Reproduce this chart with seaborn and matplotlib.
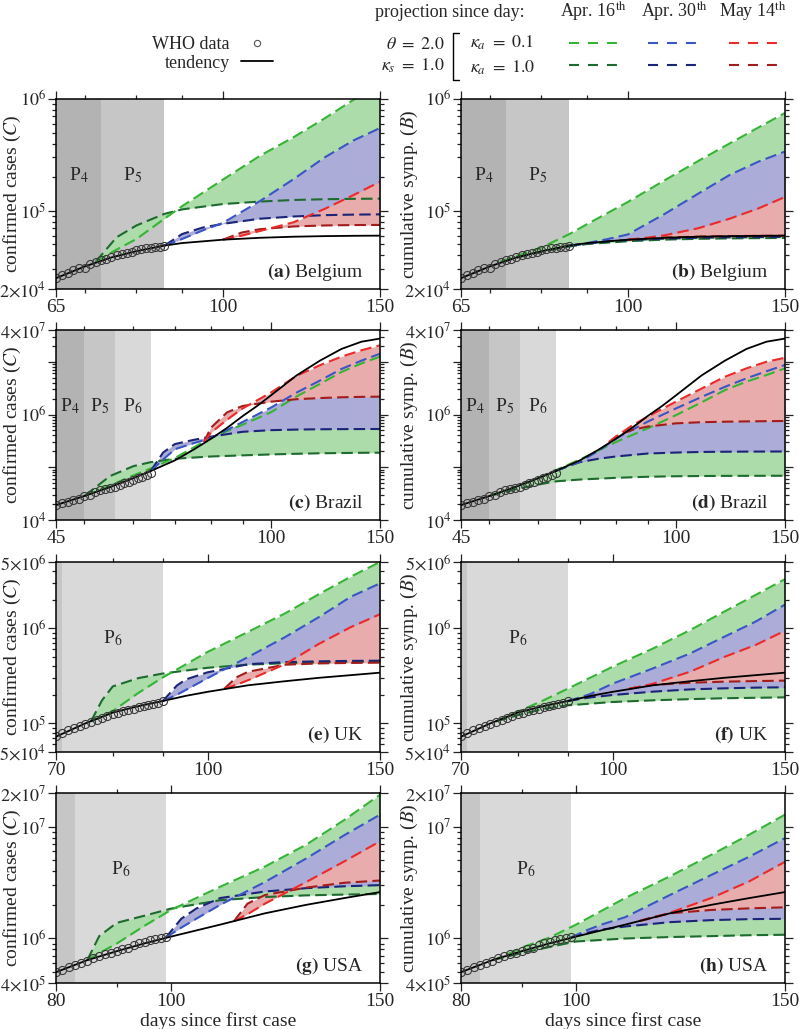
import numpy as np
import pandas as pd
import seaborn as sns
import matplotlib.pyplot as plt
import matplotlib.transforms as mtransforms
from matplotlib.lines import Line2D
from matplotlib.ticker import FixedLocator, FixedFormatter, LogLocator, NullFormatter

sns.set_theme(style='ticks')
plt.rcParams['font.family'] = ['Liberation Serif', 'DejaVu Serif']
plt.rcParams['mathtext.fontset'] = 'stix'
plt.rcParams['axes.linewidth'] = 1.1
plt.rcParams['axes.edgecolor'] = 'black'

# colours
GREEN_LIGHT, GREEN_DARK, GREEN_FILL = '#35b435', '#1d6b2e', '#acdcaa'
BLUE_LIGHT, BLUE_DARK, BLUE_FILL = '#3a55c4', '#1b2577', '#acacd8'
RED_LIGHT, RED_DARK, RED_FILL = '#ec2a2a', '#a21c1c', '#e8acac'
PHASE_COLORS = {'P4': '#b3b3b3', 'P5': '#c6c6c6', 'P6': '#d9d9d9'}

# ---------------- Belgium ----------------
BEL_DAYS = list(range(65, 87))
BEL_WHO = [24983, 26667, 28018, 29647, 30589, 31119, 33573, 34809, 36138, 37183, 38496,
           39983, 40956, 41889, 42797, 44293, 45325, 46134, 46687, 47334, 47859, 48519]
BEL_TEND_X = [65, 70, 75, 80, 86, 90, 100, 110, 120, 130, 140, 150]
BEL_TEND_Y = [25000, 31800, 38300, 43600, 48900, 51500, 55200, 57400, 58700, 59400, 59800, 60000]
BEL_X_APR16 = [72, 76, 80, 86, 90, 100, 110, 120, 130, 140, 150]
BEL_X_APR30 = [86, 90, 95, 100, 110, 120, 130, 140, 150]
BEL_X_MAY14 = [100, 105, 110, 120, 130, 140, 150]
BEL_C_APR16_K01 = [35000, 45000, 56000, 85000, 110000, 190000, 310000, 455000, 670000, 980000, 1400000]
BEL_C_APR16_K10 = [35000, 58000, 74000, 94000, 103000, 115000, 121000, 125000, 127000, 128000, 128500]
BEL_C_APR30_K01 = [48900, 56000, 67000, 78000, 122000, 192000, 300000, 425000, 550000]
BEL_C_APR30_K10 = [48900, 62000, 71000, 76500, 85000, 89000, 91500, 92500, 93000]
BEL_C_MAY14_K01 = [55200, 60000, 66000, 79000, 104000, 138000, 182000]
BEL_C_MAY14_K10 = [55200, 64000, 68500, 72500, 74000, 74600, 74800]
BEL_B_APR16_K01 = [35000, 41000, 47000, 62000, 76000, 120000, 188000, 280000, 400000, 555000, 750000]
BEL_B_APR16_K10 = [35000, 39000, 43000, 48000, 50500, 53500, 55300, 56200, 56700, 57000, 57200]
BEL_B_APR30_K01 = [48900, 51500, 56000, 61500, 94000, 143000, 209000, 275000, 339000]
BEL_B_APR30_K10 = [48900, 51000, 53500, 54800, 56500, 57500, 58000, 58300, 58500]
BEL_B_MAY14_K01 = [55200, 57500, 60500, 70000, 85000, 105000, 133000]
BEL_B_MAY14_K10 = [55200, 56800, 57800, 58800, 59400, 59700, 59900]
BEL_PHASE_EDGES = [65, 73, 86]
BEL_PHASE_KEYS = ['P4', 'P5']
BEL_PHASE_LABELS = ['P$_4$', 'P$_5$']

# ---------------- Brazil ----------------
BRA_DAYS = list(range(45, 65))
BRA_WHO = [19638, 20727, 22169, 23430, 25262, 28320, 30425, 33682, 36599, 38654,
           40581, 43079, 45757, 49492, 52995, 58509, 61888, 66501, 71886, 78162]
BRA_TEND_X = [45, 50, 55, 60, 64, 70, 75, 80, 85, 90, 95, 100, 110, 120, 130, 140, 150]
BRA_TEND_Y = [19200, 28500, 42000, 62000, 85000, 135000, 215000, 345000, 560000, 930000,
              1450000, 2300000, 5500000, 10500000, 17500000, 24000000, 27500000]
BRA_X_APR16 = [50, 55, 60, 64, 70, 80, 90, 100, 110, 120, 130, 140, 150]
BRA_X_APR30 = [64, 67, 70, 75, 80, 90, 100, 110, 120, 130, 140, 150]
BRA_X_MAY14 = [78, 80, 85, 90, 100, 110, 120, 130, 140, 150]
BRA_C_APR16_K01 = [28500, 45000, 70000, 95000, 150000, 360000, 640000, 1100000, 2200000,
                   3800000, 6400000, 9300000, 12500000]
BRA_C_APR16_K10 = [28500, 68000, 105000, 125000, 145000, 160000, 168000, 175000, 180000,
                   184000, 186000, 188000, 189000]
BRA_C_APR30_K01 = [85000, 140000, 220000, 285000, 355000, 720000, 1350000, 2600000, 4400000,
                   7300000, 10500000, 14200000]
BRA_C_APR30_K10 = [85000, 190000, 275000, 330000, 380000, 470000, 505000, 518000, 525000,
                   528000, 530000, 531000]
BRA_C_MAY14_K01 = [300000, 450000, 800000, 1300000, 2600000, 5400000, 8600000, 12500000,
                   16500000, 20500000]
BRA_C_MAY14_K10 = [300000, 560000, 1100000, 1450000, 1750000, 1950000, 2050000, 2120000,
                   2160000, 2180000]
BRA_B_APR16_K01 = [28500, 42000, 62000, 88000, 140000, 300000, 545000, 970000, 1700000,
                   2900000, 4200000, 5600000, 7500000]
BRA_B_APR16_K10 = [28500, 38000, 47000, 54000, 58500, 63000, 66000, 67500, 68200, 68600,
                   68800, 68900, 69000]
BRA_B_APR30_K01 = [85000, 105000, 127000, 205000, 350000, 730000, 1300000, 2150000, 3350000,
                   4850000, 6600000, 8700000]
BRA_B_APR30_K10 = [85000, 105000, 125000, 145000, 160000, 182000, 190000, 195000, 197000,
                   198000, 198500, 199000]
BRA_B_MAY14_K01 = [300000, 380000, 620000, 910000, 1750000, 3100000, 5200000, 7500000,
                   10000000, 11900000]
BRA_B_MAY14_K10 = [300000, 380000, 510000, 590000, 680000, 715000, 730000, 740000, 748000, 753000]
BRA_PHASE_EDGES = [45, 50, 56, 64]
BRA_PHASE_KEYS = ['P4', 'P5', 'P6']
BRA_PHASE_LABELS = ['P$_4$', 'P$_5$', 'P$_6$']

# ---------------- UK ----------------
UK_DAYS = list(range(70, 91))
UK_WHO = [73758, 78991, 84279, 88621, 93873, 98476, 103093, 108692, 114217, 120067, 124743,
          129044, 133495, 138078, 143464, 148377, 152840, 157149, 161145, 165221, 171253]
UK_TEND_X = [70, 75, 80, 85, 90, 95, 100, 110, 120, 130, 140, 150]
UK_TEND_Y = [72500, 100000, 130000, 152000, 172000, 195000, 215000, 252000, 278000, 302000,
             322000, 342000]
UK_X_APR16 = [76, 78, 80, 85, 90, 100, 110, 120, 130, 140, 150]
UK_X_APR30 = [90, 93, 95, 100, 110, 120, 130, 140, 150]
UK_X_MAY14 = [104, 107, 110, 120, 130, 140, 150]
UK_C_APR16_K01 = [105000, 118000, 135000, 210000, 305000, 565000, 920000, 1440000, 2300000,
                  3500000, 5000000]
UK_C_APR16_K10 = [105000, 175000, 245000, 300000, 335000, 385000, 415000, 430000, 440000,
                  445000, 448000]
UK_C_APR30_K01 = [172000, 200000, 225000, 300000, 500000, 810000, 1320000, 2150000, 2980000]
UK_C_APR30_K10 = [172000, 250000, 290000, 345000, 420000, 442000, 450000, 455000, 457000]
UK_C_MAY14_K01 = [232000, 255000, 285000, 420000, 690000, 1030000, 1410000]
UK_C_MAY14_K10 = [232000, 305000, 350000, 415000, 428000, 433000, 436000]
UK_B_APR16_K01 = [105000, 118000, 133000, 175000, 232000, 395000, 615000, 960000, 1500000,
                  2250000, 3300000]
UK_B_APR16_K10 = [105000, 113000, 122000, 142000, 155000, 168000, 175000, 180000, 184000,
                  186000, 188000]
UK_B_APR30_K01 = [172000, 190000, 205000, 262000, 380000, 545000, 815000, 1180000, 1780000]
UK_B_APR30_K10 = [172000, 182000, 188000, 199000, 216000, 228000, 234000, 238000, 240000]
UK_B_MAY14_K01 = [232000, 245000, 262000, 350000, 500000, 670000, 945000]
UK_B_MAY14_K10 = [232000, 245000, 254000, 268000, 275000, 279000, 282000]
UK_PHASE_EDGES = [70, 71, 90]
UK_PHASE_KEYS = ['P5', 'P6']
UK_PHASE_LABELS = ['', 'P$_6$']

# ---------------- USA ----------------
USA_DAYS = list(range(80, 100))
USA_WHO = [500000, 525000, 555000, 579000, 605000, 633000, 668000, 700000, 721000, 744000,
           777000, 801000, 830000, 868000, 905000, 938000, 966000, 988000, 1012000, 1035000]
USA_TEND_X = [80, 85, 90, 95, 100, 110, 120, 130, 140, 150]
USA_TEND_Y = [500000, 640000, 770000, 905000, 1040000, 1330000, 1680000, 2000000, 2300000, 2600000]
USA_X_APR16 = [85, 87, 90, 95, 100, 110, 120, 130, 140, 150]
USA_X_APR30 = [99, 102, 105, 110, 120, 130, 140, 150]
USA_X_MAY14 = [113, 116, 120, 130, 140, 150]
USA_C_APR16_K01 = [640000, 740000, 900000, 1300000, 1800000, 2900000, 4400000, 6900000,
                   11500000, 19300000]
USA_C_APR16_K10 = [640000, 1050000, 1380000, 1600000, 1850000, 2200000, 2350000, 2430000,
                   2470000, 2500000]
USA_C_APR30_K01 = [1020000, 1250000, 1500000, 2000000, 3200000, 5200000, 8400000, 12800000]
USA_C_APR30_K10 = [1020000, 1500000, 1850000, 2300000, 2630000, 2820000, 2930000, 3000000]
USA_C_MAY14_K01 = [1430000, 1650000, 2050000, 3200000, 4900000, 7400000]
USA_C_MAY14_K10 = [1430000, 2050000, 2450000, 2850000, 3150000, 3300000]
USA_B_APR16_K01 = [640000, 700000, 830000, 1020000, 1330000, 2300000, 3600000, 5600000,
                   8500000, 12800000]
USA_B_APR16_K10 = [640000, 680000, 740000, 840000, 940000, 1000000, 1030000, 1050000,
                   1070000, 1080000]
USA_B_APR30_K01 = [1020000, 1180000, 1330000, 1550000, 2450000, 3700000, 5400000, 7900000]
USA_B_APR30_K10 = [1020000, 1120000, 1200000, 1280000, 1400000, 1460000, 1490000, 1500000]
USA_B_MAY14_K01 = [1430000, 1520000, 1700000, 2300000, 3250000, 4850000]
USA_B_MAY14_K10 = [1430000, 1550000, 1680000, 1800000, 1860000, 1900000]
USA_PHASE_EDGES = [80, 83, 99]
USA_PHASE_KEYS = ['P5', 'P6']
USA_PHASE_LABELS = ['', 'P$_6$']

# axis settings
BEL_XLIM, BEL_XTICKS = (65, 150), [65, 100, 150]
BRA_XLIM, BRA_XTICKS = (45, 150), [45, 100, 150]
UK_XLIM, UK_XTICKS = (70, 150), [70, 100, 150]
USA_XLIM, USA_XTICKS = (80, 150), [80, 100, 150]
BEL_YLIM, BEL_YTICKS = (2e4, 1e6), [2e4, 1e5, 1e6]
BEL_YLABELS = [r'$2{\times}10^{4}$', r'$10^{5}$', r'$10^{6}$']
BRA_YLIM, BRA_YTICKS = (1e4, 4e7), [1e4, 1e5, 1e6, 1e7, 4e7]
BRA_YLABELS = [r'$10^{4}$', '', r'$10^{6}$', '', r'$4{\times}10^{7}$']
UK_YLIM, UK_YTICKS = (5e4, 5e6), [5e4, 1e5, 1e6, 5e6]
UK_YLABELS = [r'$5{\times}10^{4}$', r'$10^{5}$', r'$10^{6}$', r'$5{\times}10^{6}$']
USA_YLIM, USA_YTICKS = (4e5, 2e7), [4e5, 1e6, 1e7, 2e7]
USA_YLABELS = [r'$4{\times}10^{5}$', r'$10^{6}$', r'$10^{7}$', r'$2{\times}10^{7}$']

DASH = (5.5, 2.5)


def projections(x16, x30, x14, a, b, c, d, e, f):
    return [(x16, a, b, GREEN_FILL, GREEN_LIGHT, GREEN_DARK),
            (x30, c, d, BLUE_FILL, BLUE_LIGHT, BLUE_DARK),
            (x14, e, f, RED_FILL, RED_LIGHT, RED_DARK)]


def draw_panel(ax, days, who, tx, ty, projs, edges, keys, labels):
    blend = mtransforms.blended_transform_factory(ax.transData, ax.transAxes)
    for lo, hi, key, lab in zip(edges[:-1], edges[1:], keys, labels):
        ax.axvspan(lo, hi, color=PHASE_COLORS[key], lw=0, zorder=0)
        if lab:
            ax.text(np.sqrt(lo * hi), 0.6, lab, transform=blend, ha='center',
                    va='center', fontsize=14, zorder=6)
    for x, y01, y10, fill, c01, c10 in projs:
        ax.fill_between(x, y01, y10, color=fill, lw=0, zorder=1)
    for x, y01, y10, fill, c01, c10 in projs:
        sns.lineplot(x=x, y=y10, ax=ax, color=c10, lw=1.5, ls=(0, DASH),
                     estimator=None, sort=False, zorder=3)
        sns.lineplot(x=x, y=y01, ax=ax, color=c01, lw=1.5, ls=(0, DASH),
                     estimator=None, sort=False, zorder=3)
    sns.lineplot(x=tx, y=ty, ax=ax, color='black', lw=1.3, estimator=None,
                 sort=False, zorder=4)
    sns.lineplot(x=days, y=who, ax=ax, color='#3a3a3a', ls='', marker='o', ms=5.8,
                 markerfacecolor='none', markeredgecolor='#3a3a3a', markeredgewidth=0.8,
                 estimator=None, sort=False, zorder=5)


def style_axes(ax, xlim, xticks, ylim, yticks, ylabels):
    ax.set_xscale('log')
    ax.set_yscale('log')
    ax.set_xlim(*xlim)
    ax.set_ylim(*ylim)
    ax.xaxis.set_major_locator(FixedLocator(xticks))
    ax.xaxis.set_major_formatter(FixedFormatter([str(t) for t in xticks]))
    ax.xaxis.set_minor_locator(LogLocator(base=10, subs=np.arange(2, 10), numticks=50))
    ax.xaxis.set_minor_formatter(NullFormatter())
    ax.yaxis.set_major_locator(FixedLocator(yticks))
    ax.yaxis.set_major_formatter(FixedFormatter(ylabels))
    ax.yaxis.set_minor_locator(LogLocator(base=10, subs=np.arange(2, 10), numticks=50))
    ax.yaxis.set_minor_formatter(NullFormatter())
    ax.tick_params(which='both', direction='out', top=True, right=True, width=0.9,
                   color='#222222')
    ax.tick_params(which='major', length=5.5, pad=2)
    ax.tick_params(axis='x', which='major', labelsize=14)
    ax.tick_params(axis='y', which='major', labelsize=13, pad=1.5)
    ax.tick_params(which='minor', length=3)
    for s in ax.spines.values():
        s.set_linewidth(1.1)
        s.set_zorder(10)


fig, axes = plt.subplots(4, 2, figsize=(7.99, 10.29), dpi=100)
W, H = 799.0, 1029.0
row_tops = [99, 330, 562, 793]
col_lefts = [56, 461]

rows = [
    ('Belgium', BEL_DAYS, BEL_WHO, BEL_TEND_X, BEL_TEND_Y,
     projections(BEL_X_APR16, BEL_X_APR30, BEL_X_MAY14, BEL_C_APR16_K01, BEL_C_APR16_K10,
                 BEL_C_APR30_K01, BEL_C_APR30_K10, BEL_C_MAY14_K01, BEL_C_MAY14_K10),
     projections(BEL_X_APR16, BEL_X_APR30, BEL_X_MAY14, BEL_B_APR16_K01, BEL_B_APR16_K10,
                 BEL_B_APR30_K01, BEL_B_APR30_K10, BEL_B_MAY14_K01, BEL_B_MAY14_K10),
     BEL_PHASE_EDGES, BEL_PHASE_KEYS, BEL_PHASE_LABELS,
     BEL_XLIM, BEL_XTICKS, BEL_YLIM, BEL_YTICKS, BEL_YLABELS),
    ('Brazil', BRA_DAYS, BRA_WHO, BRA_TEND_X, BRA_TEND_Y,
     projections(BRA_X_APR16, BRA_X_APR30, BRA_X_MAY14, BRA_C_APR16_K01, BRA_C_APR16_K10,
                 BRA_C_APR30_K01, BRA_C_APR30_K10, BRA_C_MAY14_K01, BRA_C_MAY14_K10),
     projections(BRA_X_APR16, BRA_X_APR30, BRA_X_MAY14, BRA_B_APR16_K01, BRA_B_APR16_K10,
                 BRA_B_APR30_K01, BRA_B_APR30_K10, BRA_B_MAY14_K01, BRA_B_MAY14_K10),
     BRA_PHASE_EDGES, BRA_PHASE_KEYS, BRA_PHASE_LABELS,
     BRA_XLIM, BRA_XTICKS, BRA_YLIM, BRA_YTICKS, BRA_YLABELS),
    ('UK', UK_DAYS, UK_WHO, UK_TEND_X, UK_TEND_Y,
     projections(UK_X_APR16, UK_X_APR30, UK_X_MAY14, UK_C_APR16_K01, UK_C_APR16_K10,
                 UK_C_APR30_K01, UK_C_APR30_K10, UK_C_MAY14_K01, UK_C_MAY14_K10),
     projections(UK_X_APR16, UK_X_APR30, UK_X_MAY14, UK_B_APR16_K01, UK_B_APR16_K10,
                 UK_B_APR30_K01, UK_B_APR30_K10, UK_B_MAY14_K01, UK_B_MAY14_K10),
     UK_PHASE_EDGES, UK_PHASE_KEYS, UK_PHASE_LABELS,
     UK_XLIM, UK_XTICKS, UK_YLIM, UK_YTICKS, UK_YLABELS),
    ('USA', USA_DAYS, USA_WHO, USA_TEND_X, USA_TEND_Y,
     projections(USA_X_APR16, USA_X_APR30, USA_X_MAY14, USA_C_APR16_K01, USA_C_APR16_K10,
                 USA_C_APR30_K01, USA_C_APR30_K10, USA_C_MAY14_K01, USA_C_MAY14_K10),
     projections(USA_X_APR16, USA_X_APR30, USA_X_MAY14, USA_B_APR16_K01, USA_B_APR16_K10,
                 USA_B_APR30_K01, USA_B_APR30_K10, USA_B_MAY14_K01, USA_B_MAY14_K10),
     USA_PHASE_EDGES, USA_PHASE_KEYS, USA_PHASE_LABELS,
     USA_XLIM, USA_XTICKS, USA_YLIM, USA_YTICKS, USA_YLABELS),
]

tags = 'abcdefgh'
for i, row in enumerate(rows):
    (name, days, who, tx, ty, proj_c, proj_b, edges, keys, labels,
     xlim, xticks, ylim, yticks, ylabels) = row
    for j, projs in enumerate([proj_c, proj_b]):
        ax = axes[i, j]
        ax.set_position([col_lefts[j] / W, 1 - (row_tops[i] + 190) / H, 324 / W, 190 / H])
        draw_panel(ax, days, who, tx, ty, projs, edges, keys, labels)
        style_axes(ax, xlim, xticks, ylim, yticks, ylabels)
        if j == 0:
            ax.set_ylabel('confirmed cases ($C$)', fontsize=14)
            ax.yaxis.set_label_coords(-0.103, 0.5)
        else:
            ax.set_ylabel('cumulative symp. ($B$)', fontsize=14)
            ax.yaxis.set_label_coords(-0.128, 0.5)
        if i == 3:
            ax.set_xlabel('days since first case', fontsize=14, labelpad=1)
        else:
            ax.set_xlabel('')
        tag = tags[2 * i + j]
        ax.text(0.95, 0.065, r'$\mathbf{(' + tag + r')}$ ' + name, transform=ax.transAxes,
                ha='right', va='baseline', fontsize=14, zorder=7)

# ---- top legend block
leg1 = fig.legend(handles=[Line2D([], [], ls='none', marker='o', ms=4.5, mfc='none',
                                  mec='#555555', mew=0.8),
                           Line2D([], [], color='black', lw=1.3)],
                  labels=['WHO data', 'tendency'], markerfirst=False, frameon=False,
                  loc='center right', bbox_to_anchor=(273 / W, 1 - 54 / H),
                  borderpad=0, borderaxespad=0, handlelength=1.75, handletextpad=0.65,
                  labelspacing=0.08, fontsize=13)

fig.text(375 / W, 1 - 17 / H, 'projection since day:', fontsize=13, ha='left', va='baseline')
for xc, lab in zip([593, 674, 753],
                   [r'Apr. 16$^{\rm th}$', r'Apr. 30$^{\rm th}$', r'May 14$^{\rm th}$']):
    fig.text(xc / W, 1 - 17 / H, lab, fontsize=13, ha='center', va='baseline')

fig.text(445 / W, 1 - 49 / H, r'$\theta\ =\ 2.0$', fontsize=13, ha='right', va='baseline')
fig.text(445 / W, 1 - 71 / H, r'$\kappa_s\ =\ 1.0$', fontsize=13, ha='right', va='baseline')
fig.text(470 / W, 1 - 48 / H, r'$\kappa_a\ =\ 0.1$', fontsize=13, ha='left', va='baseline')
fig.text(470 / W, 1 - 73 / H, r'$\kappa_a\ =\ 1.0$', fontsize=13, ha='left', va='baseline')

for xs, ys in [([459, 453, 453, 459], [33, 33, 80, 80])]:
    fig.add_artist(Line2D([v / W for v in xs], [1 - v / H for v in ys],
                          transform=fig.transFigure, color='black', lw=1.0))

for x0, light, dark in [(569, GREEN_LIGHT, GREEN_DARK), (648, BLUE_LIGHT, BLUE_DARK),
                        (729, RED_LIGHT, RED_DARK)]:
    fig.legend(handles=[Line2D([], [], color=light, lw=1.5, dashes=(4.8, 4.3)),
                        Line2D([], [], color=dark, lw=1.5, dashes=(4.8, 4.3))],
               labels=['', ''], frameon=False, loc='center left',
               bbox_to_anchor=(x0 / W, 1 - 56 / H), borderpad=0, borderaxespad=0,
               handlelength=2.65, handletextpad=0, labelspacing=0.3, fontsize=13)

fig.savefig('out.png', dpi=100)
